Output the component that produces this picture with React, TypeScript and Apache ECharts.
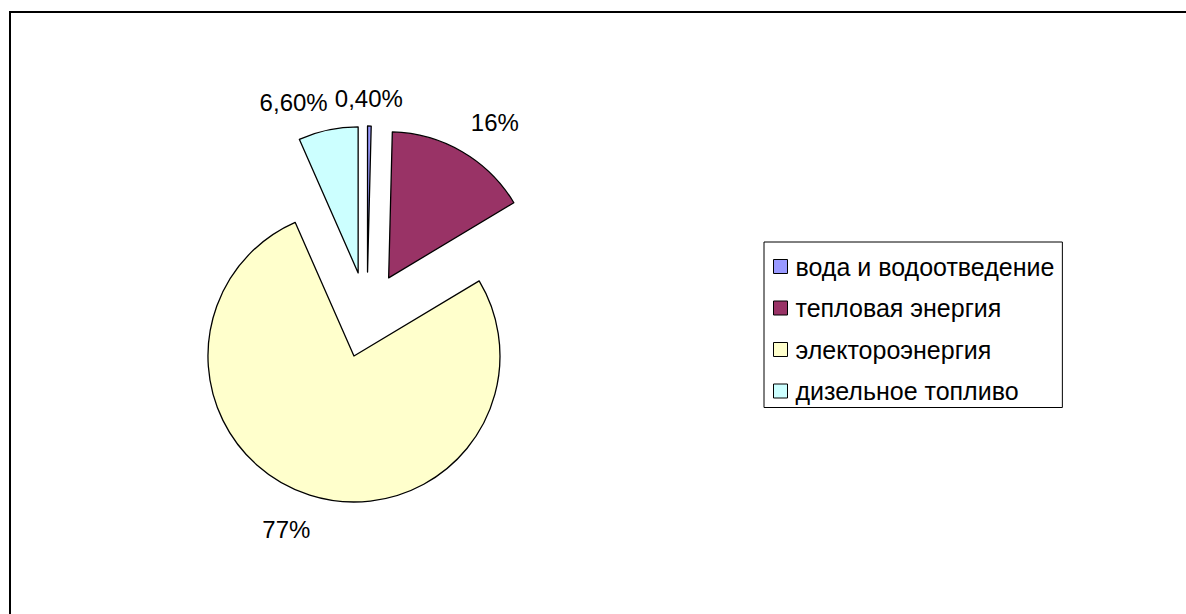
import React, { useEffect, useRef } from "react";
import * as echarts from "echarts";

const categories = ["вода и водоотведение", "тепловая энергия", "электороэнергия", "дизельное топливо"];
const values = [0.4, 16, 77, 6.6];
const valueLabels = ["0,40%", "16%", "77%", "6,60%"];
const colors = ["#9999FF", "#993366", "#FFFFCC", "#CCFFFF"];

export default function App() {
  const ref = useRef<HTMLDivElement>(null);
  useEffect(() => {
    if (!ref.current) return;
    const chart = echarts.init(ref.current, undefined, { renderer: "svg" });
    const font = "Arial, 'Liberation Sans', sans-serif";
    // small label nudges (Excel-style placement of overlapping labels)
    const labelNudge: Record<number, [number, number]> = {
      0: [-6, 13],
      1: [7, 6],
      2: [-6, -5],
      3: [-21, 13],
    };
    chart.setOption({
      animation: false,
      backgroundColor: "#ffffff",
      graphic: [
        {
          type: "rect",
          shape: { x: 10, y: 12, width: 1300, height: 800 },
          style: { fill: "none", stroke: "#000", lineWidth: 2 },
          silent: true,
        },
      ],
      legend: {
        orient: "vertical",
        left: 764,
        top: 242,
        borderColor: "#000",
        borderWidth: 1,
        padding: [12, 8, 4, 9],
        itemGap: 16.5,
        itemWidth: 14,
        itemHeight: 14,
        icon: "rect",
        itemStyle: { borderColor: "#000", borderWidth: 1 },
        textStyle: { fontFamily: font, fontSize: 25, color: "#000", padding: [0, 0, 0, 3] },
        selectedMode: false,
        data: categories,
      },
      series: [
        {
          type: "pie",
          center: [367, 315],
          radius: 146,
          startAngle: 90,
          clockwise: true,
          selectedMode: "multiple",
          selectedOffset: 43,
          avoidLabelOverlap: false,
          emphasis: { disabled: true },
          itemStyle: { borderColor: "#000", borderWidth: 1.3 },
          label: {
            show: true,
            position: "outside",
            fontFamily: font,
            fontSize: 24,
            color: "#000",
          },
          labelLine: { show: false, length: 41, length2: 0 },
          labelLayout: (params: any) => {
            const n = labelNudge[params.dataIndex] || [0, 0];
            return { align: "center", verticalAlign: "middle", dx: n[0], dy: n[1] };
          },
          data: categories.map((name, i) => ({
            name,
            value: values[i],
            selected: true,
            itemStyle: { color: colors[i] },
            label: { formatter: valueLabels[i] },
          })),
        },
      ],
    });
    return () => chart.dispose();
  }, []);
  return (
    <div
      ref={ref}
      style={{ position: "fixed", left: 0, top: 0, width: 1186, height: 614 }}
    />
  );
}
